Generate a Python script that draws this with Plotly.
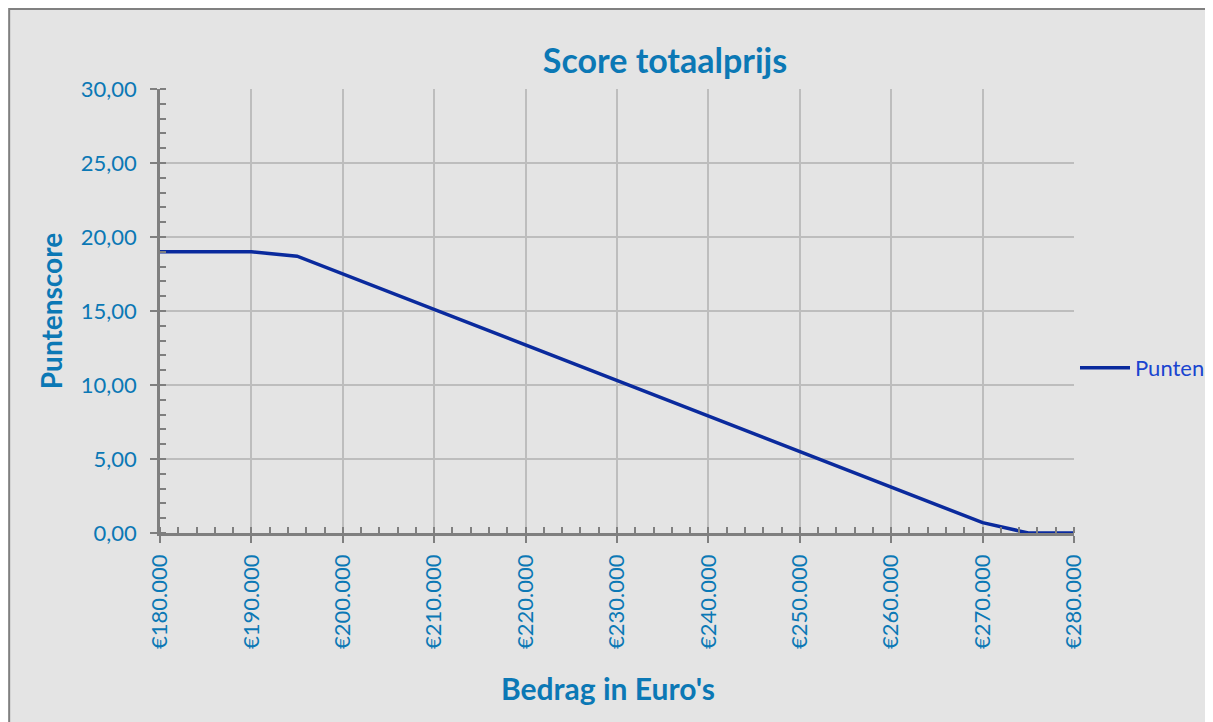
import plotly.graph_objects as go

# Data
bedrag = [180000, 190000, 195000, 200000, 210000, 220000, 230000, 240000,
          250000, 260000, 270000, 275000, 280000]
punten = [19.0, 19.0, 18.7, 17.5, 15.1, 12.7, 10.3, 7.9, 5.5, 3.1, 0.7, 0.0, 0.0]

x_ticks = [180000, 190000, 200000, 210000, 220000, 230000, 240000, 250000,
           260000, 270000, 280000]
x_labels = ["\u20ac180.000", "\u20ac190.000", "\u20ac200.000", "\u20ac210.000",
            "\u20ac220.000", "\u20ac230.000", "\u20ac240.000", "\u20ac250.000",
            "\u20ac260.000", "\u20ac270.000", "\u20ac280.000"]
y_ticks = [0, 5, 10, 15, 20, 25, 30]
y_labels = ["0,00", "5,00", "10,00", "15,00", "20,00", "25,00", "30,00"]

TXT = "#0b78b5"
LINE = "#0a2a9d"
GRID = "#bdbdbd"
AX = "#7f7f7f"
FONT = "Lato, 'Open Sans', sans-serif"

fig = go.Figure()
fig.add_trace(go.Scatter(
    x=bedrag, y=punten, mode="lines", name="Punten",
    line=dict(color=LINE, width=3.5),
))

# page has an 8px body margin: work in window pixels and shift
OFF = 8
W, H = 1213, 722
L, R, T, B = 160, 1075, 89, 533  # plot area in window pixels

def px_x(p):
    return (p - L) / (R - L)

def px_y(p):
    return (B - p) / (B - T)

fig.update_layout(
    width=W, height=H,
    margin=dict(l=L - OFF, r=W - (R - OFF), t=T - OFF, b=H - (B - OFF), pad=0),
    paper_bgcolor="white",
    plot_bgcolor="rgba(0,0,0,0)",
    font=dict(family=FONT, color=TXT),
    title=dict(text="<b>Score totaalprijs</b>", x=(665 - OFF) / W, xanchor="center",
               y=1 - (61 - OFF) / H, yanchor="middle", yref="container",
               font=dict(size=34, color=TXT, family=FONT)),
    showlegend=True,
    legend=dict(x=px_x(1075), xanchor="left", y=px_y(368), yanchor="middle",
                bgcolor="rgba(0,0,0,0)", itemwidth=50,
                font=dict(size=22, color="#1a45d0", family=FONT)),
    shapes=[dict(type="rect", xref="paper", yref="paper",
                 x0=px_x(OFF + 1), x1=px_x(1260), y0=px_y(760), y1=px_y(OFF + 1),
                 fillcolor="#e4e4e4", line=dict(color="#808080", width=2),
                 layer="below")],
    annotations=[dict(text="<b>Bedrag in Euro's</b>", xref="paper", yref="paper",
                      x=px_x(608), y=px_y(688), xanchor="center", yanchor="middle",
                      showarrow=False, font=dict(size=30, color=TXT, family=FONT))],
)

fig.update_xaxes(
    range=[180000, 280000], tickvals=x_ticks, ticktext=x_labels,
    tickangle=-90,
    tickfont=dict(size=22, color=TXT, family=FONT),
    showgrid=True, gridcolor=GRID, gridwidth=1.5,
    showline=True, linecolor=AX, linewidth=2.5,
    ticks="outside", ticklen=7, tickcolor=AX, tickwidth=2,
    ticklabelstandoff=3,
    minor=dict(dtick=2000, ticks="inside", ticklen=6, tickcolor=AX,
               tickwidth=2, showgrid=False),
    zeroline=False,
)
fig.update_yaxes(
    range=[0, 30], tickvals=y_ticks, ticktext=y_labels,
    tickfont=dict(size=22, color=TXT, family=FONT),
    showgrid=True, gridcolor=GRID, gridwidth=1.5,
    showline=True, linecolor=AX, linewidth=2.5,
    ticks="outside", ticklen=7, tickcolor=AX, tickwidth=2,
    ticklabelstandoff=9,
    minor=dict(dtick=1, ticks="inside", ticklen=6, tickcolor=AX,
               tickwidth=2, showgrid=False),
    zeroline=False,
    title=dict(text="<b>Puntenscore</b>", standoff=11,
               font=dict(size=28, color=TXT, family=FONT)),
)

fig.write_html("out.html")
